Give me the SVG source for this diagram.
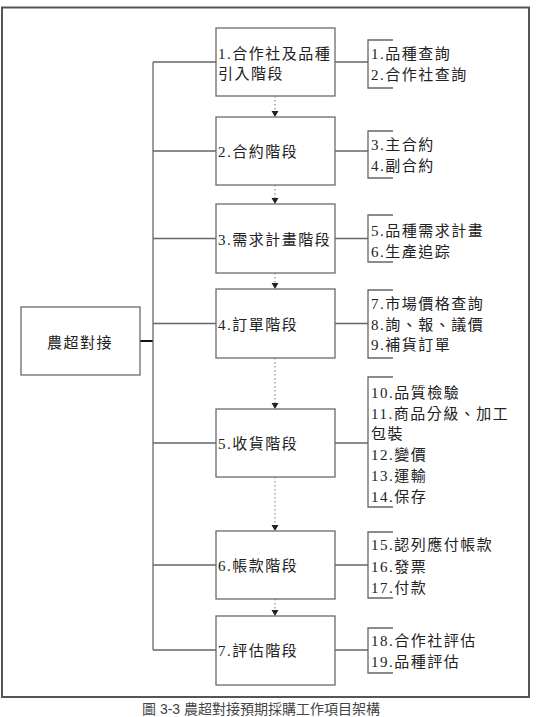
<svg xmlns="http://www.w3.org/2000/svg" width="536" height="717" viewBox="0 0 536 717">
<defs>
<style>
.frame{fill:none;stroke:#555;stroke-width:2}
.box{fill:#fff;stroke:#6a6a6a;stroke-width:1.3}
.ln{fill:none;stroke:#666;stroke-width:1.3}
.dot{fill:none;stroke:#777;stroke-width:1;stroke-dasharray:1.5 2.5}
.ah{fill:#222}
.t{font-family:"Liberation Serif","Noto Sans CJK TC",serif;font-size:15px;fill:#222;letter-spacing:1.5px}
.cap{font-family:"Liberation Sans","Noto Sans CJK TC",sans-serif;font-size:14px;fill:#444}
</style>
</defs>
<rect class="frame" x="2" y="7.5" width="527" height="689.5"/>
<g id="connectors">
<line x1="140" y1="341" x2="153" y2="341" stroke="#111" stroke-width="2"/>
<line class="ln" x1="153" y1="62" x2="153" y2="650"/>
<path class="ln" d="M153 62H216M153 151H216M153 238.5H216M153 323.5H216M153 443H216M153 565H216M153 650H216"/>
<path class="ln" d="M335 62H368M335 151H368M335 238.5H368M335 323.5H368M335 443H368M335 565H368M335 650H368"/>
<path class="ln" d="M393 40H368V88H393M393 131H368V178H393M393 215H368V262H393M393 290H368V358H393M393 377H368V507H393M393 532H368V598H393M393 628H368V673H393"/>
<path class="dot" d="M275 96V111M275 185V198M275 273V283M275 358V403M275 477V525M275 599V610"/>
<path class="ah" d="M271.5 111H278.5L275 117ZM271.5 198H278.5L275 204ZM271.5 283H278.5L275 289ZM271.5 403H278.5L275 409ZM271.5 525H278.5L275 531ZM271.5 610H278.5L275 616Z"/>
</g>
<g id="main">
<rect class="box" x="21" y="307" width="119" height="68"/>
<text class="t" x="80" y="348" text-anchor="middle">農超對接</text>
</g>
<g id="stage1">
<rect class="box" x="216" y="28" width="119" height="68"/>
<text class="t" x="218" y="59">1.合作社及品種</text>
<text class="t" x="218" y="79">引入階段</text>
</g>
<g id="stage2">
<rect class="box" x="216" y="117" width="119" height="68"/>
<text class="t" x="218" y="157">2.合約階段</text>
</g>
<g id="stage3">
<rect class="box" x="216" y="204" width="119" height="69"/>
<text class="t" x="218" y="245">3.需求計畫階段</text>
</g>
<g id="stage4">
<rect class="box" x="216" y="289" width="119" height="69"/>
<text class="t" x="218" y="330">4.訂單階段</text>
</g>
<g id="stage5">
<rect class="box" x="216" y="409" width="119" height="68"/>
<text class="t" x="218" y="449">5.收貨階段</text>
</g>
<g id="stage6">
<rect class="box" x="216" y="531" width="119" height="68"/>
<text class="t" x="218" y="571">6.帳款階段</text>
</g>
<g id="stage7">
<rect class="box" x="216" y="616" width="119" height="69"/>
<text class="t" x="218" y="656">7.評估階段</text>
</g>
<g id="items1">
<text class="t" x="371" y="59">1.品種查詢</text>
<text class="t" x="371" y="80">2.合作社查詢</text>
</g>
<g id="items2">
<text class="t" x="371" y="150">3.主合約</text>
<text class="t" x="371" y="171">4.副合約</text>
</g>
<g id="items3">
<text class="t" x="371" y="236">5.品種需求計畫</text>
<text class="t" x="371" y="257">6.生產追踪</text>
</g>
<g id="items4">
<text class="t" x="371" y="309">7.市場價格查詢</text>
<text class="t" x="371" y="330">8.詢、報、議價</text>
<text class="t" x="371" y="350">9.補貨訂單</text>
</g>
<g id="items5">
<text class="t" x="371" y="398">10.品質檢驗</text>
<text class="t" x="371" y="419">11.商品分級、加工</text>
<text class="t" x="371" y="439">包裝</text>
<text class="t" x="371" y="460">12.變價</text>
<text class="t" x="371" y="481">13.運輸</text>
<text class="t" x="371" y="502">14.保存</text>
</g>
<g id="items6">
<text class="t" x="371" y="550">15.認列應付帳款</text>
<text class="t" x="371" y="572">16.發票</text>
<text class="t" x="371" y="593">17.付款</text>
</g>
<g id="items7">
<text class="t" x="371" y="646">18.合作社評估</text>
<text class="t" x="371" y="667">19.品種評估</text>
</g>
<text class="cap" x="142" y="714">圖 3-3 農超對接預期採購工作項目架構</text>
</svg>
